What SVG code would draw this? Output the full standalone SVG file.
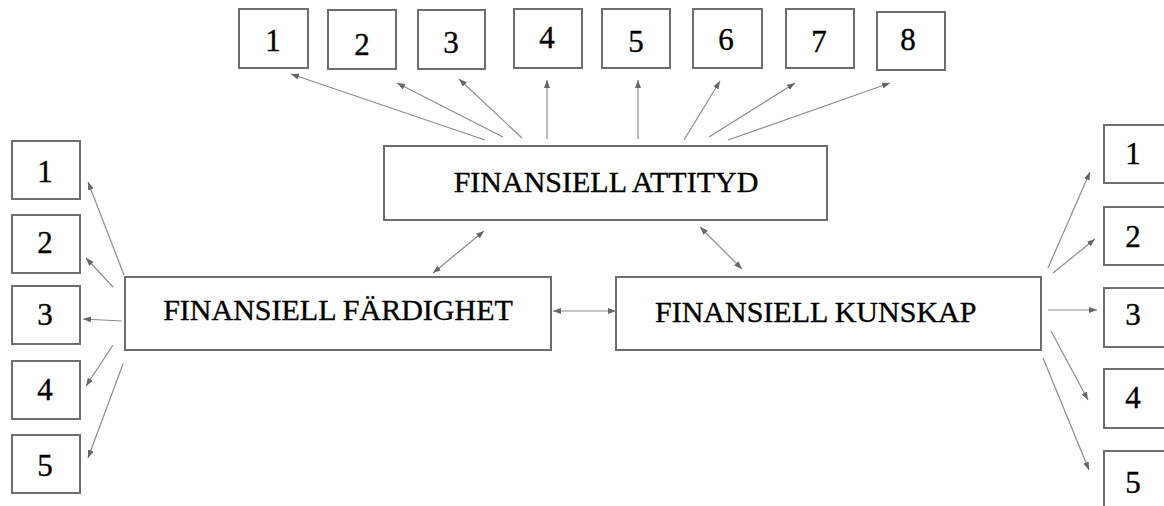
<svg xmlns="http://www.w3.org/2000/svg" width="1164" height="506" viewBox="0 0 1164 506">
  <style>
    .box { fill: #ffffff; stroke: #6e6e6e; stroke-width: 2; }
    text { font-family: 'Liberation Serif', 'Times New Roman', serif; fill: #000000; stroke: #000000; stroke-width: 0.35; }
    .num { font-size: 31px; text-anchor: middle; }
    .big { font-size: 30px; }
    .con { stroke: #8c8c8c; stroke-width: 1.2; fill: none; marker-end: url(#ah); }
    .dbl { marker-start: url(#ah); }
  </style>
  <defs>
    <marker id="ah" markerUnits="userSpaceOnUse" markerWidth="8" markerHeight="6" refX="8" refY="3" orient="auto-start-reverse">
      <path d="M0,0 L8,3 L0,6 z" fill="#666666"/>
    </marker>
  </defs>
  <rect width="1164" height="506" fill="#ffffff"/>

  <!-- top boxes -->
  <g id="top1"><rect class="box" x="239" y="9" width="69" height="59"/><text class="num" x="273" y="51">1</text></g>
  <g id="top2"><rect class="box" x="328" y="10" width="68" height="59"/><text class="num" x="362" y="55">2</text></g>
  <g id="top3"><rect class="box" x="418" y="10" width="67" height="59"/><text class="num" x="451" y="53">3</text></g>
  <g id="top4"><rect class="box" x="514" y="9" width="68" height="59"/><text class="num" x="547" y="48">4</text></g>
  <g id="top5"><rect class="box" x="602" y="9" width="68" height="59"/><text class="num" x="636" y="52">5</text></g>
  <g id="top6"><rect class="box" x="693" y="9" width="69" height="59"/><text class="num" x="726" y="50">6</text></g>
  <g id="top7"><rect class="box" x="786" y="9" width="68" height="59"/><text class="num" x="819" y="52">7</text></g>
  <g id="top8"><rect class="box" x="877" y="12" width="68" height="58"/><text class="num" x="908" y="50">8</text></g>

  <!-- main boxes -->
  <g id="attityd"><rect class="box" x="384" y="146" width="443" height="74"/><text class="big" x="606" y="192" text-anchor="middle">FINANSIELL ATTITYD</text></g>
  <g id="fardighet"><rect class="box" x="125" y="277" width="426" height="73"/><text class="big" x="338" y="320" text-anchor="middle" font-size="30.7">FINANSIELL FÄRDIGHET</text></g>
  <g id="kunskap"><rect class="box" x="616" y="277" width="425" height="73"/><text class="big" x="655" y="322" font-size="30.7">FINANSIELL KUNSKAP</text></g>

  <!-- left boxes -->
  <g id="left1"><rect class="box" x="12" y="141" width="68" height="58"/><text class="num" x="45" y="182">1</text></g>
  <g id="left2"><rect class="box" x="12" y="215" width="68" height="58"/><text class="num" x="45" y="253">2</text></g>
  <g id="left3"><rect class="box" x="12" y="286" width="68" height="58"/><text class="num" x="45" y="325">3</text></g>
  <g id="left4"><rect class="box" x="12" y="361" width="68" height="58"/><text class="num" x="45" y="400">4</text></g>
  <g id="left5"><rect class="box" x="12" y="435" width="68" height="58"/><text class="num" x="45" y="476">5</text></g>

  <!-- right boxes -->
  <g id="right1"><rect class="box" x="1104" y="125" width="68" height="58"/><text class="num" x="1133" y="164">1</text></g>
  <g id="right2"><rect class="box" x="1104" y="207" width="68" height="58"/><text class="num" x="1133" y="247">2</text></g>
  <g id="right3"><rect class="box" x="1104" y="288" width="68" height="59"/><text class="num" x="1133" y="325">3</text></g>
  <g id="right4"><rect class="box" x="1104" y="369" width="68" height="59"/><text class="num" x="1133" y="408">4</text></g>
  <g id="right5"><rect class="box" x="1104" y="451" width="68" height="58"/><text class="num" x="1133" y="493">5</text></g>

  <g id="connectors">
    <line class="con" x1="485" y1="140" x2="291" y2="74"/>
    <line class="con" x1="503" y1="137" x2="397" y2="83"/>
    <line class="con" x1="522" y1="138" x2="459" y2="79"/>
    <line class="con" x1="547" y1="139" x2="547" y2="80"/>
    <line class="con" x1="638" y1="139" x2="638" y2="80"/>
    <line class="con" x1="684" y1="140" x2="720" y2="81"/>
    <line class="con" x1="709" y1="137" x2="795" y2="83"/>
    <line class="con" x1="728" y1="140" x2="890" y2="83"/>

    <line class="con" x1="124" y1="275" x2="88" y2="182"/>
    <line class="con" x1="113" y1="287" x2="86" y2="258"/>
    <line class="con" x1="122" y1="321" x2="83" y2="319"/>
    <line class="con" x1="113" y1="345" x2="86" y2="386"/>
    <line class="con" x1="123" y1="364" x2="88" y2="458"/>

    <line class="con" x1="1048" y1="268" x2="1090" y2="172"/>
    <line class="con" x1="1053" y1="273" x2="1095" y2="239"/>
    <line class="con" x1="1048" y1="310" x2="1097" y2="310"/>
    <line class="con" x1="1051" y1="331" x2="1088" y2="400"/>
    <line class="con" x1="1043" y1="358" x2="1089" y2="470"/>

    <line class="con dbl" x1="433" y1="273" x2="484" y2="231"/>
    <line class="con dbl" x1="700" y1="227" x2="742" y2="269"/>
    <line class="con dbl" x1="553" y1="311" x2="616" y2="311"/>
  </g>
</svg>
